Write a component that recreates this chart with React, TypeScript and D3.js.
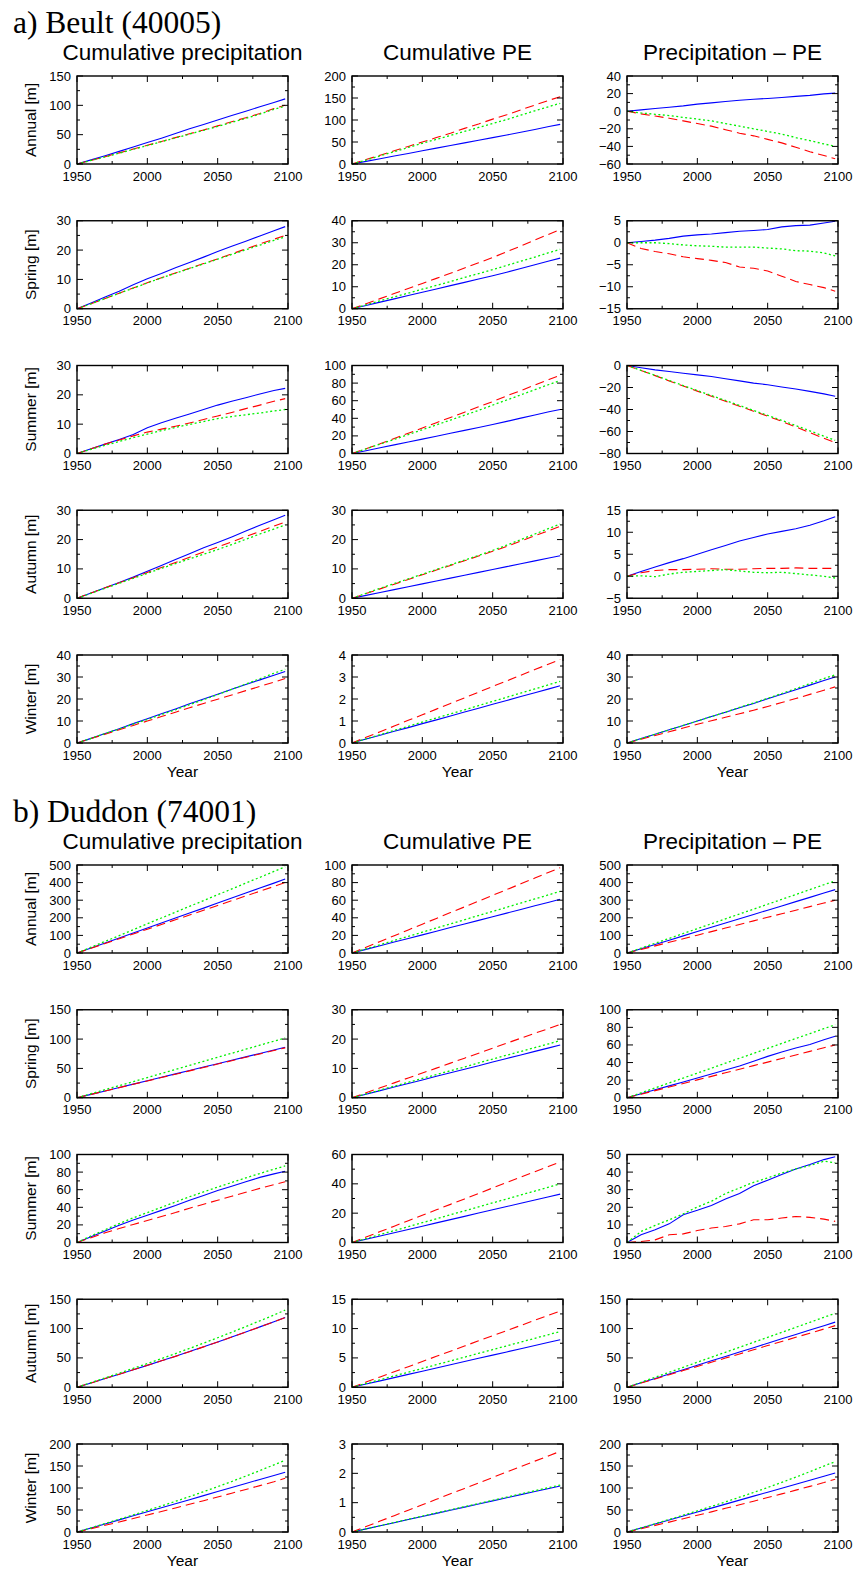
import React from 'react';
import * as d3 from 'd3';

// sample years (decadal, last point just before 2100)
const years = [1950, 1960, 1970, 1980, 1990, 2000, 2010, 2020, 2030, 2040, 2050, 2060, 2070, 2080, 2090, 2098];
const xMajor = [1950, 2000, 2050, 2100];
const xMinor = [1975, 2025, 2075];

const seasons = ['Annual', 'Spring', 'Summer', 'Autumn', 'Winter'];
const columnTitles = ['Cumulative precipitation', 'Cumulative PE', 'Precipitation \u2013 PE'];
const stationTitles = ['a) Beult (40005)', 'b) Duddon (74001)'];

// [min, max, major step] per row/column
const beultAxes = [
  [[0, 150, 50], [0, 200, 50], [-60, 40, 20]],
  [[0, 30, 10], [0, 40, 10], [-15, 5, 5]],
  [[0, 30, 10], [0, 100, 20], [-80, 0, 20]],
  [[0, 30, 10], [0, 30, 10], [-5, 15, 5]],
  [[0, 40, 10], [0, 4, 1], [0, 40, 10]],
];
const duddonAxes = [
  [[0, 500, 100], [0, 100, 20], [0, 500, 100]],
  [[0, 150, 50], [0, 30, 10], [0, 100, 20]],
  [[0, 100, 20], [0, 60, 20], [0, 50, 10]],
  [[0, 150, 50], [0, 15, 5], [0, 150, 50]],
  [[0, 200, 50], [0, 3, 1], [0, 200, 50]],
];

// ---- Beult ----
const beultAnnualP = {
  blue: [0, 7, 14, 21.5, 29, 36.5, 44, 52, 60, 67.5, 75, 82.5, 90, 97.5, 105, 111],
  red: [0, 6, 12.5, 19, 25.5, 32, 38.5, 45, 51.5, 58, 65, 72, 79, 86, 94.5, 100],
  green: [0, 6, 12, 18.5, 25, 31.5, 38, 44.5, 51, 57.5, 64, 71, 78, 85, 93.2, 98.5],
};
const beultAnnualPE = {
  blue: [0, 6, 12, 18, 24, 30, 36, 42, 48, 54, 60, 66, 72, 78.5, 85.2, 90],
  red: [0, 10, 20, 30, 40, 50, 60, 70, 81, 91, 102, 112, 123, 134, 144.8, 153],
  green: [0, 9, 18.5, 28, 37.5, 47, 56, 65, 74, 83, 92, 101, 111, 121, 130.5, 138],
};
const beultAnnualD = {
  blue: [0, 1.5, 3, 4.5, 6, 8, 9.5, 11, 12.5, 13.5, 14.5, 15.5, 16.8, 18, 19.7, 20.5],
  red: [0, -3, -5.5, -8, -11, -14, -17, -21, -25, -28, -32, -36, -41, -46, -50.4, -54],
  green: [0, -2, -3.5, -5, -7, -9, -11, -14, -17, -20, -23, -26, -30, -33.5, -37.2, -40],
};
const beultSpringP = {
  blue: [0, 2, 4, 6, 8.2, 10.2, 12, 14, 15.8, 17.6, 19.5, 21.3, 23, 24.8, 26.6, 28],
  red: [0, 1.7, 3.5, 5.3, 7.1, 8.9, 10.6, 12.2, 13.8, 15.4, 17, 18.7, 20.4, 22.1, 23.7, 25],
  green: [0, 1.7, 3.5, 5.3, 7, 8.8, 10.5, 12.1, 13.7, 15.3, 16.9, 18.5, 20.1, 21.7, 23.3, 24.5],
};
const beultSpringPE = {
  blue: [0, 1.5, 3, 4.5, 6, 7.5, 9, 10.5, 12, 13.5, 15, 16.6, 18.3, 20, 21.7, 23],
  red: [0, 2.3, 4.6, 6.9, 9.2, 11.5, 13.8, 16.1, 18.5, 20.9, 23.3, 25.9, 28.5, 31.2, 33.9, 36],
  green: [0, 1.8, 3.6, 5.4, 7.1, 8.9, 10.6, 12.4, 14.2, 16, 17.8, 19.7, 21.6, 23.5, 25.5, 27],
};
const beultSpringD = {
  blue: [0, 0.3, 0.6, 1.0, 1.5, 1.8, 2.0, 2.3, 2.6, 2.8, 3.0, 3.6, 3.9, 4.0, 4.5, 4.9],
  red: [0, -1.3, -2, -2.5, -3.2, -3.6, -4, -4.5, -5.5, -5.8, -6.4, -7.6, -8.8, -9.5, -10.2, -11],
  green: [0, 0, 0, -0.2, -0.5, -0.7, -0.8, -1.0, -1.0, -1.0, -1.2, -1.4, -1.8, -1.9, -2.3, -3.0],
};
const beultSummerP = {
  blue: [0, 1.6, 3.2, 4.8, 6.5, 8.8, 10.5, 12, 13.5, 15, 16.5, 17.8, 19, 20.3, 21.5, 22.2],
  red: [0, 1.6, 3.2, 4.6, 6, 7.3, 8.3, 9.3, 10.4, 11.6, 12.8, 14, 15.3, 16.5, 17.8, 18.7],
  green: [0, 1.4, 2.8, 4.1, 5.4, 6.6, 7.8, 8.9, 9.9, 10.9, 11.9, 12.6, 13.2, 13.8, 14.5, 15],
};
const beultSummerPE = {
  blue: [0, 3.2, 6.5, 9.8, 13, 16.3, 19.6, 23, 26.3, 29.6, 33, 36.5, 40.2, 43.8, 47.4, 50],
  red: [0, 5.5, 11, 17, 23, 29, 35, 41, 47, 53, 59, 65.5, 71.5, 77.8, 84.2, 89],
  green: [0, 5.3, 10.7, 16, 21.5, 27, 32.5, 38, 43.5, 49, 55, 60.8, 66.6, 72.5, 78.4, 83],
};
const beultSummerD = {
  blue: [0, -2, -4, -5.5, -7, -8.5, -10, -12, -14, -16, -17.5, -19.5, -21.3, -23.5, -25.8, -28],
  red: [0, -4.5, -9.2, -14, -18.7, -23.3, -28, -32.5, -37, -41.6, -46, -50.8, -55.8, -61, -66.2, -70],
  green: [0, -4.5, -9, -13.6, -18.2, -22.8, -27.3, -31.8, -36.3, -40.8, -45.3, -49.9, -54.6, -59.4, -64.3, -68],
};
const beultAutumnP = {
  blue: [0, 1.8, 3.6, 5.4, 7.2, 9.2, 11.2, 13.2, 15.2, 17.2, 19, 20.9, 22.9, 24.9, 26.8, 28.3],
  red: [0, 1.8, 3.6, 5.3, 7, 8.8, 10.5, 12.2, 14, 15.8, 17.5, 19.2, 21, 22.8, 24.6, 26],
  green: [0, 1.7, 3.4, 5.1, 6.8, 8.5, 10.2, 11.8, 13.4, 15, 16.6, 18.3, 20.1, 21.9, 23.6, 25],
};
const beultAutumnPE = {
  blue: [0, 0.98, 1.96, 2.94, 3.92, 4.9, 5.88, 6.86, 7.84, 8.82, 9.8, 10.78, 11.76, 12.74, 13.72, 14.5],
  red: [0, 1.6, 3.2, 4.8, 6.4, 8, 9.6, 11.2, 12.8, 14.4, 16, 17.7, 19.5, 21.3, 23.1, 24.5],
  green: [0, 1.7, 3.4, 5, 6.6, 8.2, 9.8, 11.4, 13, 14.6, 16.3, 18.1, 20, 21.9, 23.8, 25.3],
};
const beultAutumnD = {
  blue: [0, 1.1, 2.1, 3.1, 4, 5, 6, 7, 8, 8.8, 9.6, 10.2, 10.8, 11.6, 12.6, 13.5],
  red: [0, 0.8, 1.3, 1.5, 1.5, 1.6, 1.7, 1.6, 1.6, 1.7, 1.8, 1.8, 1.9, 1.8, 1.8, 1.8],
  green: [0, 0.1, -0.1, 0.5, 0.9, 1.1, 1.3, 1.5, 1.2, 0.9, 0.8, 0.9, 0.6, 0.3, 0, -0.4],
};
const beultWinterP = {
  blue: [0, 2.1, 4.3, 6.5, 8.8, 11, 13.3, 15.5, 17.8, 20, 22.2, 24.4, 26.6, 28.7, 30.8, 32.5],
  red: [0, 2, 4, 6, 8, 10, 12, 14, 16, 18, 19.9, 21.8, 23.8, 25.7, 27.7, 29.3],
  green: [0, 2.1, 4.3, 6.4, 8.6, 10.7, 12.9, 15.1, 17.4, 19.7, 22, 24.4, 26.8, 29.2, 31.7, 33.5],
};
const beultWinterPE = {
  blue: [0, 0.18, 0.35, 0.53, 0.7, 0.88, 1.05, 1.23, 1.41, 1.58, 1.76, 1.93, 2.11, 2.28, 2.46, 2.6],
  red: [0, 0.26, 0.51, 0.77, 1.03, 1.28, 1.54, 1.8, 2.05, 2.31, 2.57, 2.82, 3.08, 3.34, 3.59, 3.8],
  green: [0, 0.19, 0.38, 0.57, 0.76, 0.95, 1.14, 1.32, 1.51, 1.7, 1.89, 2.08, 2.27, 2.46, 2.65, 2.8],
};
const beultWinterD = {
  blue: [0, 2, 4, 6, 8, 10, 12, 14, 16, 18, 20.1, 22.2, 24.2, 26.3, 28.4, 30],
  red: [0, 1.7, 3.4, 5.1, 6.8, 8.5, 10.1, 11.7, 13.3, 14.9, 16.6, 18.4, 20.2, 22.1, 24, 25.5],
  green: [0, 2, 4, 6, 8, 10, 12, 14, 16.2, 18.2, 20.3, 22.5, 24.7, 27, 29.3, 31],
};

// ---- Duddon ----
const duddonAnnualP = {
  blue: [0, 28.4, 56.7, 85, 113.5, 142, 170, 199, 227, 255, 284, 312, 340.5, 369, 397, 420],
  red: [0, 27, 54, 81, 108, 135, 162, 189, 216, 243, 270, 297, 324, 351, 378, 400],
  green: [0, 33, 66, 99, 132, 166, 199, 232, 265, 298, 331, 364, 397, 430, 463.5, 490],
};
const duddonAnnualPE = {
  blue: [0, 4.12, 8.24, 12.4, 16.5, 20.6, 24.7, 28.9, 33, 37.1, 41.2, 45.3, 49.5, 53.6, 57.7, 61],
  red: [0, 6.56, 13.1, 19.7, 26.2, 32.8, 39.3, 45.9, 52.4, 59, 65.5, 72.1, 78.6, 85.2, 91.8, 97],
  green: [0, 4.73, 9.46, 14.2, 18.9, 23.6, 28.4, 33.1, 37.8, 42.6, 47.3, 52, 56.8, 61.5, 66.2, 70],
};
const duddonAnnualD = {
  blue: [0, 24.3, 48.6, 73, 97.3, 121.6, 146, 170.3, 194.6, 218.9, 243.3, 267.6, 291.9, 316.2, 340.5, 360],
  red: [0, 20.3, 40.5, 60.8, 81.1, 101.3, 121.6, 141.9, 162.2, 182.4, 202.7, 223, 243.2, 263.5, 283.8, 300],
  green: [0, 27.7, 55.4, 83.1, 110.8, 138.5, 166.2, 193.9, 221.6, 249.3, 277, 304.7, 332.4, 360.1, 387.8, 410],
};
const duddonSpringP = {
  blue: [0, 5.8, 11.6, 17.4, 23.2, 29, 34.9, 40.7, 46.5, 52.3, 58.1, 63.9, 69.7, 75.5, 81.3, 86],
  red: [0, 5.8, 11.5, 17.2, 23, 28.7, 34.5, 40, 45.8, 51.6, 57.4, 63.2, 69, 74.7, 80.4, 85],
  green: [0, 6.9, 13.8, 20.7, 27.6, 34.5, 41.4, 48.2, 55.1, 62, 68.9, 75.8, 82.7, 89.6, 96.5, 102],
};
const duddonSpringPE = {
  blue: [0, 1.22, 2.43, 3.65, 4.87, 6.08, 7.3, 8.51, 9.73, 10.9, 12.2, 13.4, 14.6, 15.8, 17, 18],
  red: [0, 1.69, 3.38, 5.07, 6.76, 8.45, 10.1, 11.8, 13.5, 15.2, 16.9, 18.6, 20.3, 22, 23.6, 25],
  green: [0, 1.32, 2.63, 3.95, 5.27, 6.59, 7.9, 9.22, 10.5, 11.9, 13.2, 14.5, 15.8, 17.1, 18.4, 19.5],
};
const duddonSpringD = {
  blue: [0, 4.5, 9, 13.5, 18, 22.5, 27, 31.5, 36, 41.5, 47, 52, 56.5, 60.5, 66, 70],
  red: [0, 4.05, 8.1, 12.2, 16.2, 20.3, 24.3, 28.4, 32.4, 36.5, 40.5, 44.6, 48.6, 52.7, 56.8, 60],
  green: [0, 5.6, 11.2, 16.8, 22.4, 28, 33.6, 39.3, 44.9, 50.5, 56.1, 61.7, 67.3, 72.9, 78.5, 83],
};
const duddonSummerP = {
  blue: [0, 6.5, 13, 19.5, 25.5, 31, 36.5, 42, 48, 53.5, 59, 64, 69, 74, 78, 81],
  red: [0, 5.5, 11, 16, 20.5, 25, 29.5, 34, 39, 43.5, 48, 52.5, 57, 61.5, 65.8, 69],
  green: [0, 7.5, 14.5, 21.5, 28, 34, 40, 46, 52, 57.5, 63, 68.2, 73.4, 78.4, 83.4, 87],
};
const duddonSummerPE = {
  blue: [0, 2.23, 4.46, 6.69, 8.92, 11.1, 13.4, 15.6, 17.8, 20.1, 22.3, 24.5, 26.8, 29, 31.2, 33],
  red: [0, 3.72, 7.43, 11.1, 14.9, 18.6, 22.3, 26, 29.7, 33.4, 37.2, 40.9, 44.6, 48.3, 52, 55],
  green: [0, 2.7, 5.4, 8.1, 10.8, 13.5, 16.2, 18.9, 21.6, 24.3, 27, 29.7, 32.4, 35.1, 37.8, 40],
};
const duddonSummerD = {
  blue: [0, 4.4, 7.2, 10.6, 15.8, 18.3, 21, 24.7, 27.8, 32.3, 35.4, 38.6, 41.8, 44.3, 47.1, 48.7],
  red: [0, 0.6, 1.5, 4.4, 4.9, 6.8, 8.2, 9.1, 10.6, 12.9, 12.9, 13.9, 14.8, 14.3, 13.3, 12],
  green: [0, 6.3, 9.7, 12.9, 16.3, 20.2, 23.4, 27.8, 31, 34.2, 36.7, 39.5, 41.8, 43.7, 46.2, 45.3],
};
const duddonAutumnP = {
  blue: [0, 7.4, 14.8, 22.2, 29.7, 37.3, 45, 52.8, 60.8, 69, 77.3, 85.7, 94.2, 102.9, 111.7, 118.8],
  red: [0, 7.4, 14.8, 22.2, 29.8, 37.4, 45, 52.6, 60.6, 68.8, 77, 85.5, 94, 102.7, 111.5, 118.8],
  green: [0, 8, 16, 24, 32.2, 40.4, 48.8, 57.4, 66.2, 75.2, 84.4, 93.8, 103.4, 113.2, 123.2, 131.5],
};
const duddonAutumnPE = {
  blue: [0, 0.55, 1.09, 1.64, 2.19, 2.74, 3.28, 3.83, 4.38, 4.93, 5.47, 6.02, 6.57, 7.12, 7.66, 8.1],
  red: [0, 0.88, 1.76, 2.64, 3.51, 4.39, 5.27, 6.15, 7.03, 7.91, 8.78, 9.66, 10.54, 11.42, 12.3, 13],
  green: [0, 0.64, 1.28, 1.93, 2.57, 3.21, 3.85, 4.49, 5.13, 5.78, 6.42, 7.06, 7.7, 8.34, 8.99, 9.5],
};
const duddonAutumnD = {
  blue: [0, 7.5, 15, 22.5, 30, 37.5, 45, 52.5, 60, 67.5, 75, 82.5, 90, 97.5, 105, 111],
  red: [0, 7.1, 14.2, 21.3, 28.4, 35.5, 42.6, 49.7, 56.8, 63.9, 71, 78, 85.1, 92.2, 99.3, 105],
  green: [0, 8.5, 17, 25.5, 34, 42.6, 51.1, 59.6, 68.1, 76.6, 85.1, 93.6, 102.2, 110.7, 119.2, 126],
};
const duddonWinterP = {
  blue: [0, 9.2, 18.4, 27.6, 36.8, 45.9, 55.1, 64.3, 73.5, 82.7, 91.9, 101.1, 110.3, 119.5, 128.6, 136],
  red: [0, 7.6, 15.2, 22.9, 30.7, 38.6, 46.6, 54.7, 62.9, 71.2, 79.6, 88.1, 96.7, 105.4, 114.2, 122],
  green: [0, 9.6, 19.3, 29.1, 39, 49, 59.2, 69.7, 80.5, 91.6, 103, 114.8, 127, 139.6, 152.6, 163],
};
const duddonWinterPE = {
  blue: [0, 0.106, 0.212, 0.318, 0.424, 0.53, 0.636, 0.743, 0.849, 0.955, 1.061, 1.167, 1.273, 1.379, 1.485, 1.57],
  red: [0, 0.186, 0.372, 0.557, 0.743, 0.929, 1.115, 1.301, 1.486, 1.672, 1.858, 2.044, 2.23, 2.416, 2.601, 2.75],
  green: [0, 0.108, 0.216, 0.324, 0.432, 0.541, 0.649, 0.757, 0.865, 0.973, 1.081, 1.189, 1.297, 1.405, 1.514, 1.6],
};
const duddonWinterD = {
  blue: [0, 9.1, 18.1, 27.2, 36.2, 45.3, 54.3, 63.4, 72.4, 81.5, 90.5, 99.6, 108.6, 117.7, 126.8, 134],
  red: [0, 7.5, 15, 22.5, 30.2, 38, 45.8, 53.8, 61.9, 70, 78.3, 86.7, 95.1, 103.7, 112.3, 120],
  green: [0, 9.4, 18.9, 28.5, 38.3, 48.1, 58.1, 68.4, 79, 89.9, 101.1, 112.7, 124.7, 137.1, 149.9, 160],
};

const beultPanels = [
  [beultAnnualP, beultAnnualPE, beultAnnualD],
  [beultSpringP, beultSpringPE, beultSpringD],
  [beultSummerP, beultSummerPE, beultSummerD],
  [beultAutumnP, beultAutumnPE, beultAutumnD],
  [beultWinterP, beultWinterPE, beultWinterD],
];
const duddonPanels = [
  [duddonAnnualP, duddonAnnualPE, duddonAnnualD],
  [duddonSpringP, duddonSpringPE, duddonSpringD],
  [duddonSummerP, duddonSummerPE, duddonSummerD],
  [duddonAutumnP, duddonAutumnPE, duddonAutumnD],
  [duddonWinterP, duddonWinterPE, duddonWinterD],
];

// layout
const W = 857;
const H = 1570;
const colLeft = [77, 352, 627];
const plotW = 211;
const plotH = 88;
const blockTop = [76, 865];
const rowStep = 144.75;
const SANS = '"Liberation Sans", Arial, Helvetica, sans-serif';
const SERIF = '"Liberation Serif", "Times New Roman", serif';

const styles = {
  blue: { stroke: '#0000ff', dash: null, width: 1.1 },
  red: { stroke: '#ff0000', dash: '9,5', width: 1.1 },
  green: { stroke: '#00f000', dash: '2,2.5', width: 1.3 },
};

const fmt = (v) => (v < 0 ? '\u2212' + String(-v) : String(v));

const Panel = ({ left, top, axis, data, yLabel, xLabel }) => {
  const [lo, hi, step] = axis;
  const x = d3.scaleLinear().domain([1950, 2100]).range([0, plotW]);
  const y = d3.scaleLinear().domain([lo, hi]).range([plotH, 0]);
  const major = d3.range(lo, hi + step / 2, step);
  const minor = d3.range(lo + step / 2, hi, step);
  const line = d3.line().x((d) => x(d[0])).y((d) => y(d[1]));
  const majT = 6;
  const minT = 3;

  return (
    <g transform={`translate(${left},${top})`}>
      {['blue', 'red', 'green'].map((k) => (
        <path
          key={k}
          d={line(years.map((yr, i) => [yr, data[k][i]]))}
          fill="none"
          stroke={styles[k].stroke}
          strokeWidth={styles[k].width}
          strokeDasharray={styles[k].dash || undefined}
        />
      ))}
      {/* ticks, inward on all four sides */}
      <g stroke="#000" strokeWidth={1}>
        {xMajor.map((v) => (
          <g key={'xM' + v}>
            <line x1={x(v)} x2={x(v)} y1={plotH} y2={plotH - majT} />
            <line x1={x(v)} x2={x(v)} y1={0} y2={majT} />
          </g>
        ))}
        {xMinor.map((v) => (
          <g key={'xm' + v}>
            <line x1={x(v)} x2={x(v)} y1={plotH} y2={plotH - minT} />
            <line x1={x(v)} x2={x(v)} y1={0} y2={minT} />
          </g>
        ))}
        {major.map((v) => (
          <g key={'yM' + v}>
            <line x1={0} x2={majT} y1={y(v)} y2={y(v)} />
            <line x1={plotW} x2={plotW - majT} y1={y(v)} y2={y(v)} />
          </g>
        ))}
        {minor.map((v) => (
          <g key={'ym' + v}>
            <line x1={0} x2={minT} y1={y(v)} y2={y(v)} />
            <line x1={plotW} x2={plotW - minT} y1={y(v)} y2={y(v)} />
          </g>
        ))}
      </g>
      <rect x={0} y={0} width={plotW} height={plotH} fill="none" stroke="#000" strokeWidth={1.4} />
      <g fontFamily={SANS} fontSize={13} fill="#000">
        {major.map((v) => (
          <text key={'yl' + v} x={-6} y={y(v)} textAnchor="end" dominantBaseline="central">
            {fmt(v)}
          </text>
        ))}
        {xMajor.map((v) => (
          <text key={'xl' + v} x={x(v)} y={plotH + 16.5} textAnchor="middle">
            {v}
          </text>
        ))}
      </g>
      {yLabel && (
        <text
          transform={`translate(-41,${plotH / 2}) rotate(-90)`}
          textAnchor="middle"
          fontFamily={SANS}
          fontSize={15.5}
        >
          {yLabel}
        </text>
      )}
      {xLabel && (
        <text x={plotW / 2} y={plotH + 34} textAnchor="middle" fontFamily={SANS} fontSize={15.5}>
          {xLabel}
        </text>
      )}
    </g>
  );
};

const Block = ({ top, title, panels, axes }) => (
  <g>
    <text x={13} y={top - 43} fontFamily={SERIF} fontSize={31.5}>
      {title}
    </text>
    {columnTitles.map((t, c) => (
      <text key={t} x={colLeft[c] + plotW / 2} y={top - 16.5} textAnchor="middle" fontFamily={SANS} fontSize={22.5}>
        {t}
      </text>
    ))}
    {seasons.map((s, r) =>
      colLeft.map((cx, c) => (
        <Panel
          key={s + c}
          left={cx}
          top={top + r * rowStep}
          axis={axes[r][c]}
          data={panels[r][c]}
          yLabel={c === 0 ? `${s} [m]` : null}
          xLabel={r === seasons.length - 1 ? 'Year' : null}
        />
      ))
    )}
  </g>
);

const App = () => (
  <svg
    width={W}
    height={H}
    viewBox={`0 0 ${W} ${H}`}
    style={{ position: 'absolute', left: 0, top: 0, background: '#fff' }}
  >
    <rect x={0} y={0} width={W} height={H} fill="#fff" />
    <Block top={blockTop[0]} title={stationTitles[0]} panels={beultPanels} axes={beultAxes} />
    <Block top={blockTop[1]} title={stationTitles[1]} panels={duddonPanels} axes={duddonAxes} />
  </svg>
);

export default App;
